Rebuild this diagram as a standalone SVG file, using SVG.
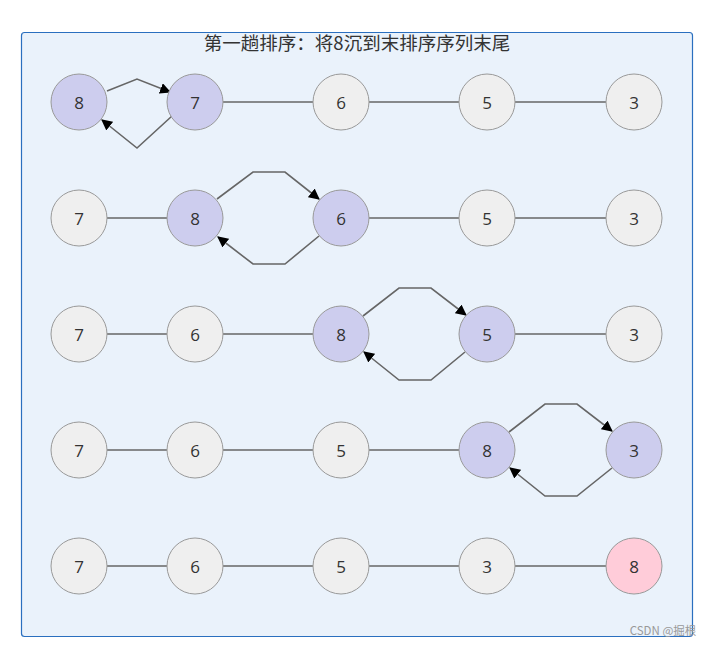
<svg xmlns="http://www.w3.org/2000/svg" width="713" height="646" viewBox="0 0 713 646">
<style>
.n circle{stroke:#999;stroke-width:1}
.g circle{fill:#efefef}
.p circle{fill:#cdcdee}
.k circle{fill:#ffccd9}
.n text{font-family:"Open Sans","DejaVu Sans",sans-serif;font-size:17px;fill:#333;text-anchor:middle;dominant-baseline:central}
.e path,.e line{fill:none;stroke:#666;stroke-width:1.6}
</style>
<defs>
<marker id="ar2" viewBox="0 0 10 10" refX="9" refY="5" markerWidth="11" markerHeight="11" orient="auto" markerUnits="userSpaceOnUse"><path d="M0,0L10,5L0,10z" fill="#000"/></marker>
</defs>
<rect x="21.5" y="32.5" width="671" height="604" rx="3" fill="#eaf2fb" stroke="#2a6fbf" stroke-width="1.2"/>
<text x="357" y="50" font-family="'Noto Sans CJK SC',sans-serif" font-size="18.5" fill="#333" text-anchor="middle">第一趟排序：将8沉到末排序序列末尾</text>
<g class="e" id="connectors">
<path d="M107,91 L137,79 L170,92" marker-end="url(#ar2)"/>
<path d="M172,116 L137,148 L102,120" marker-end="url(#ar2)"/>
<line x1="223" y1="102" x2="313" y2="102"/>
<line x1="369" y1="102" x2="459" y2="102"/>
<line x1="515" y1="102" x2="606" y2="102"/>
<line x1="107" y1="218" x2="167" y2="218"/>
<path d="M217,199 L253,172 L285,172 L319,199" marker-end="url(#ar2)"/>
<path d="M319,236 L285,264 L253,264 L218,237" marker-end="url(#ar2)"/>
<line x1="369" y1="218" x2="459" y2="218"/>
<line x1="515" y1="218" x2="606" y2="218"/>
<line x1="107" y1="334" x2="167" y2="334"/>
<line x1="223" y1="334" x2="313" y2="334"/>
<path d="M363,316 L399,288 L431,288 L466,315" marker-end="url(#ar2)"/>
<path d="M465,352 L431,380 L399,380 L364,352" marker-end="url(#ar2)"/>
<line x1="515" y1="334" x2="606" y2="334"/>
<line x1="107" y1="450" x2="167" y2="450"/>
<line x1="223" y1="450" x2="313" y2="450"/>
<line x1="369" y1="450" x2="459" y2="450"/>
<path d="M509,432 L545,404 L577,404 L612,431" marker-end="url(#ar2)"/>
<path d="M612,468 L577,496 L545,496 L510,468" marker-end="url(#ar2)"/>
<line x1="107" y1="566" x2="167" y2="566"/>
<line x1="223" y1="566" x2="313" y2="566"/>
<line x1="369" y1="566" x2="459" y2="566"/>
<line x1="515" y1="566" x2="606" y2="566"/>
</g>
<g id="r1a" class="n p"><circle cx="79" cy="102" r="28"/><text x="79" y="102">8</text></g>
<g id="r1b" class="n p"><circle cx="195" cy="102" r="28"/><text x="195" y="102">7</text></g>
<g id="r1c" class="n g"><circle cx="341" cy="102" r="28"/><text x="341" y="102">6</text></g>
<g id="r1d" class="n g"><circle cx="487" cy="102" r="28"/><text x="487" y="102">5</text></g>
<g id="r1e" class="n g"><circle cx="634" cy="102" r="28"/><text x="634" y="102">3</text></g>
<g id="r2a" class="n g"><circle cx="79" cy="218" r="28"/><text x="79" y="218">7</text></g>
<g id="r2b" class="n p"><circle cx="195" cy="218" r="28"/><text x="195" y="218">8</text></g>
<g id="r2c" class="n p"><circle cx="341" cy="218" r="28"/><text x="341" y="218">6</text></g>
<g id="r2d" class="n g"><circle cx="487" cy="218" r="28"/><text x="487" y="218">5</text></g>
<g id="r2e" class="n g"><circle cx="634" cy="218" r="28"/><text x="634" y="218">3</text></g>
<g id="r3a" class="n g"><circle cx="79" cy="334" r="28"/><text x="79" y="334">7</text></g>
<g id="r3b" class="n g"><circle cx="195" cy="334" r="28"/><text x="195" y="334">6</text></g>
<g id="r3c" class="n p"><circle cx="341" cy="334" r="28"/><text x="341" y="334">8</text></g>
<g id="r3d" class="n p"><circle cx="487" cy="334" r="28"/><text x="487" y="334">5</text></g>
<g id="r3e" class="n g"><circle cx="634" cy="334" r="28"/><text x="634" y="334">3</text></g>
<g id="r4a" class="n g"><circle cx="79" cy="450" r="28"/><text x="79" y="450">7</text></g>
<g id="r4b" class="n g"><circle cx="195" cy="450" r="28"/><text x="195" y="450">6</text></g>
<g id="r4c" class="n g"><circle cx="341" cy="450" r="28"/><text x="341" y="450">5</text></g>
<g id="r4d" class="n p"><circle cx="487" cy="450" r="28"/><text x="487" y="450">8</text></g>
<g id="r4e" class="n p"><circle cx="634" cy="450" r="28"/><text x="634" y="450">3</text></g>
<g id="r5a" class="n g"><circle cx="79" cy="566" r="28"/><text x="79" y="566">7</text></g>
<g id="r5b" class="n g"><circle cx="195" cy="566" r="28"/><text x="195" y="566">6</text></g>
<g id="r5c" class="n g"><circle cx="341" cy="566" r="28"/><text x="341" y="566">5</text></g>
<g id="r5d" class="n g"><circle cx="487" cy="566" r="28"/><text x="487" y="566">3</text></g>
<g id="r5e" class="n k"><circle cx="634" cy="566" r="28"/><text x="634" y="566">8</text></g>
<text x="663" y="635" font-family="'Noto Sans CJK SC',sans-serif" font-size="11.5" fill="#999" text-anchor="middle">CSDN @掘根</text>
</svg>
